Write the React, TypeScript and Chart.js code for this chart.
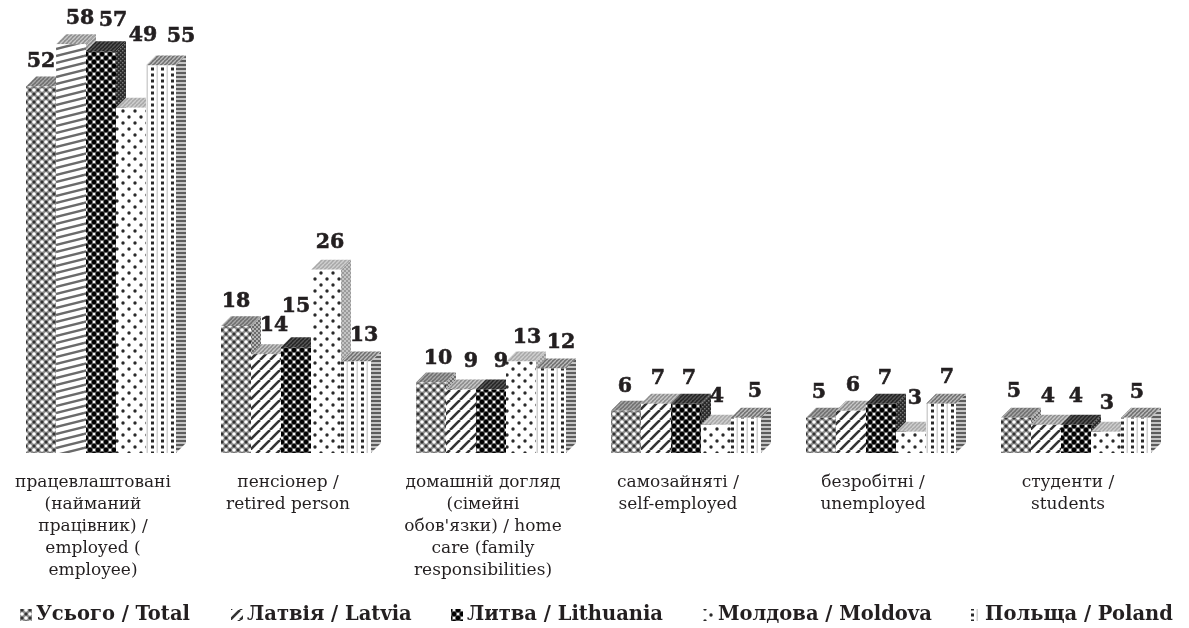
import React, { useEffect, useRef } from "react";
import { Chart, registerables } from "chart.js";

Chart.register(...registerables);

const categories: string[][] = [
  ["працевлаштовані", "(найманий", "працівник) /", "employed (", "employee)"],
  ["пенсіонер /", "retired person"],
  ["домашній догляд", "(сімейні", "обов'язки) / home", "care (family", "responsibilities)"],
  ["самозайняті /", "self-employed"],
  ["безробітні /", "unemployed"],
  ["студенти /", "students"],
];
const seriesNames = ["Усього / Total", "Латвія / Latvia", "Литва / Lithuania", "Молдова / Moldova", "Польща / Poland"];
const total = [52, 18, 10, 6, 5, 5];
const latvia = [58, 14, 9, 7, 6, 4];
const lithuania = [57, 15, 9, 7, 7, 4];
const moldova = [49, 26, 13, 4, 3, 3];
const poland = [55, 13, 12, 5, 7, 5];

// hand placement of the value labels relative to their bars (series x category)
const labelDx = [
  [0, 0, 7, -1, -2, -2],
  [9, 8, 10, 2, 2, 2],
  [12, 0, 10, 3, 4, 0],
  [12, 4, 6, 1, 4, 1],
  [20, 8, 10, 9, 6, 1],
];
const labelDy = [
  [25, 24, 24, 24, 25, 26],
  [26, 29, 28, 25, 25, 28],
  [31, 41, 28, 25, 25, 28],
  [72, 27, 24, 28, 33, 28],
  [29, 26, 26, 26, 26, 25],
];
const legendTextX = [36, 247, 467, 718, 985];

const DEPTH = 10;
const INK = "#231f20";

function tile(w: number, h: number, bg: string, draw: (g: CanvasRenderingContext2D) => void): CanvasPattern {
  const c = document.createElement("canvas");
  c.width = w;
  c.height = h;
  const g = c.getContext("2d")!;
  g.fillStyle = bg;
  g.fillRect(0, 0, w, h);
  draw(g);
  return g.createPattern(c, "repeat")!;
}
const dot = (g: CanvasRenderingContext2D, x: number, y: number, r: number, col: string) => {
  g.fillStyle = col;
  g.beginPath();
  g.arc(x, y, r, 0, Math.PI * 2);
  g.fill();
};
const stripes = (g: CanvasRenderingContext2D, s: number, lw: number, col: string) => {
  g.strokeStyle = col;
  g.lineWidth = lw;
  for (let i = -s; i <= s * 2; i += s) {
    g.beginPath();
    g.moveTo(i, s);
    g.lineTo(i + s, 0);
    g.stroke();
  }
};

function makePatterns() {
  const front = [
    tile(8, 8, "#8a8a8a", (g) => {
      dot(g, 2, 2, 1.8, "#fff");
      dot(g, 6, 6, 1.8, "#fff");
      dot(g, 6, 2, 1.5, "#333");
      dot(g, 2, 6, 1.5, "#333");
    }),
    tile(10, 10, "#ffffff", (g) => stripes(g, 10, 2.6, "#333333")),
    tile(8, 8, "#5a5a5a", (g) => {
      dot(g, 2, 2, 2.2, "#000");
      dot(g, 6, 6, 2.2, "#000");
      dot(g, 6, 2, 1.3, "#f4f4f4");
      dot(g, 2, 6, 1.3, "#f4f4f4");
    }),
    tile(12, 12, "#ffffff", (g) => {
      dot(g, 3, 3, 1.7, "#2a2a2a");
      dot(g, 9, 9, 1.7, "#2a2a2a");
    }),
    tile(10, 6, "#ffffff", (g) => {
      g.fillStyle = "#d0d0d0";
      g.fillRect(6.5, 0, 1.5, 6);
      g.fillStyle = "#2a2a2a";
      g.fillRect(1, 1.5, 3, 3);
    }),
  ];
  // the tallest Latvia bar shows its stripes stretched nearly flat
  const flatStripes = tile(28, 7, "#ffffff", (g) => {
    g.strokeStyle = "#6a6a6a";
    g.lineWidth = 2.4;
    [-7, 0, 7, 14].forEach((o) => {
      g.beginPath();
      g.moveTo(0, o + 7);
      g.lineTo(28, o);
      g.stroke();
    });
  });
  const side = [
    tile(4, 4, "#6b6b6b", (g) => {
      g.fillStyle = "#b5b5b5";
      g.fillRect(0, 0, 2, 2);
      g.fillRect(2, 2, 2, 2);
    }),
    tile(4, 4, "#888888", (g) => stripes(g, 4, 1.3, "#c8c8c8")),
    tile(4, 4, "#2a2a2a", (g) => {
      g.fillStyle = "#777";
      g.fillRect(0, 0, 1.5, 1.5);
      g.fillRect(2, 2, 1.5, 1.5);
    }),
    tile(4, 4, "#9a9a9a", (g) => {
      g.fillStyle = "#c4c4c4";
      g.fillRect(0, 0, 2, 2);
      g.fillRect(2, 2, 2, 2);
    }),
    tile(4, 4, "#c4c4c4", (g) => {
      g.fillStyle = "#5c5c5c";
      g.fillRect(0, 0, 4, 2);
    }),
  ];
  const top = [
    tile(4, 4, "#6f6f6f", (g) => stripes(g, 4, 1.4, "#a8a8a8")),
    tile(4, 4, "#8c8c8c", (g) => stripes(g, 4, 1.4, "#c8c8c8")),
    tile(4, 4, "#242424", (g) => stripes(g, 4, 1.4, "#585858")),
    tile(4, 4, "#a8a8a8", (g) => stripes(g, 4, 1.4, "#cfcfcf")),
    tile(4, 4, "#6f6f6f", (g) => stripes(g, 4, 1.4, "#bdbdbd")),
  ];
  return { front, side, top, flatStripes };
}

export default function App() {
  const ref = useRef<HTMLCanvasElement>(null);
  useEffect(() => {
    const { front, side, top, flatStripes } = makePatterns();
    const values = [total, latvia, lithuania, moldova, poland];

    // Chart.js paints the first dataset last; the reference overlaps left to right,
    // so the bars are painted here, each with its 3D side and top.
    const depthPlugin = {
      id: "depth",
      beforeDatasetsDraw(chart: any) {
        const ctx = chart.ctx;
        chart.data.datasets.forEach((_: any, i: number) => {
          chart.getDatasetMeta(i).data.forEach((bar: any) => {
            const p = bar.getProps(["x", "y", "base", "width"], true);
            const l = p.x - p.width / 2;
            const r = p.x + p.width / 2;
            ctx.save();
            ctx.fillStyle = side[i];
            ctx.beginPath();
            ctx.moveTo(r, p.y);
            ctx.lineTo(r + DEPTH, p.y - DEPTH);
            ctx.lineTo(r + DEPTH, p.base - DEPTH);
            ctx.lineTo(r, p.base);
            ctx.closePath();
            ctx.fill();
            ctx.fillStyle = top[i];
            ctx.beginPath();
            ctx.moveTo(l, p.y);
            ctx.lineTo(l + DEPTH, p.y - DEPTH);
            ctx.lineTo(r + DEPTH, p.y - DEPTH);
            ctx.lineTo(r, p.y);
            ctx.closePath();
            ctx.fill();
            ctx.restore();
            bar.draw(ctx);
          });
        });
        return false;
      },
    };

    const valueLabels = {
      id: "valueLabels",
      afterDraw(chart: any) {
        const ctx = chart.ctx;
        ctx.save();
        ctx.font = 'bold 20.5px "DejaVu Serif"';
        ctx.fillStyle = INK;
        ctx.strokeStyle = INK;
        ctx.lineWidth = 0.6;
        ctx.textAlign = "center";
        ctx.textBaseline = "middle";
        chart.data.datasets.forEach((ds: any, i: number) => {
          chart.getDatasetMeta(i).data.forEach((bar: any, j: number) => {
            const x = bar.x + labelDx[i][j];
            const y = bar.y - labelDy[i][j];
            ctx.fillText(String(ds.data[j]), x, y);
            ctx.strokeText(String(ds.data[j]), x, y);
          });
        });
        ctx.restore();
      },
    };

    const bottomLegend = {
      id: "bottomLegend",
      afterDraw(chart: any) {
        const ctx = chart.ctx;
        const box = 12;
        const boxGap = 4;
        const yMid = 615;
        ctx.save();
        ctx.font = 'bold 19.5px "DejaVu Serif"';
        ctx.textBaseline = "middle";
        chart.data.datasets.forEach((d: any, i: number) => {
          const x = legendTextX[i];
          ctx.fillStyle = front[i];
          ctx.fillRect(x - box - boxGap, yMid - box / 2, box, box);
          ctx.fillStyle = INK;
          ctx.fillText(d.label, x, yMid);
        });
        ctx.restore();
      },
    };

    const chart = new Chart(ref.current!, {
      type: "bar",
      data: {
        labels: categories as any,
        datasets: values.map((data, i) => ({
          label: seriesNames[i],
          data,
          backgroundColor: i === 1 ? data.map((_, j) => (j === 0 ? flatStripes : front[1])) : front[i],
          borderWidth: 0,
          barPercentage: 1,
          categoryPercentage: 150 / 195,
        })),
      },
      options: {
        responsive: false,
        animation: false,
        layout: { padding: { left: 3.5, right: 15.5, top: 2, bottom: 0 } },
        plugins: { legend: { display: false }, tooltip: { enabled: false } },
        scales: {
          x: {
            grid: { display: false, drawTicks: false },
            border: { display: false },
            afterFit(scale: any) {
              scale.height = 175;
            },
            ticks: {
              autoSkip: false,
              maxRotation: 0,
              minRotation: 0,
              padding: 19,
              labelOffset: -8,
              color: INK,
              font: { family: '"DejaVu Serif"', size: 17, lineHeight: 22 / 17 },
            },
          },
          y: { display: false, min: 0, max: 64 },
        },
      },
      plugins: [depthPlugin, valueLabels, bottomLegend],
    } as any);
    return () => chart.destroy();
  }, []);
  return (
    <div style={{ position: "fixed", left: 0, top: 0, width: 1189, height: 628, background: "#fff" }}>
      <canvas ref={ref} width={1189} height={628} style={{ display: "block" }} />
    </div>
  );
}
